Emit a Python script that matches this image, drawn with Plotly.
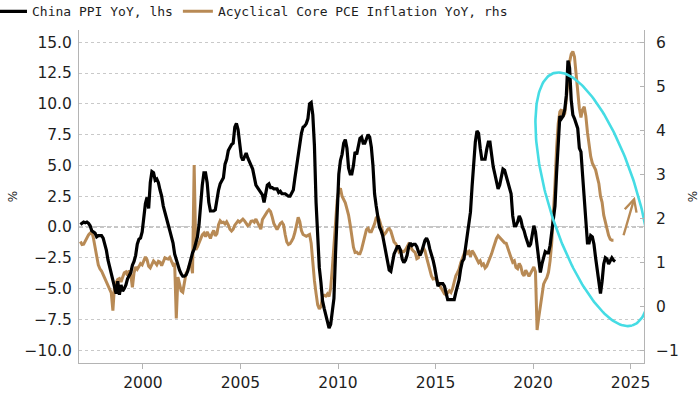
import numpy as np
import plotly.graph_objects as go

# ---------------- data (monthly, first observation = Oct 1996) ----------------
start_year = 1996
start_month = 10

china_ppi_yoy = [
    0.2, 0.3, 0.4,
    0.35, 0.4, 0.3, 0.1, -0.3, -0.4, -0.5, -0.8, -0.7, -0.7, -0.7, -0.9,
    -1.3, -1.9, -2.7, -3.2, -3.8, -4.3, -4.8, -5.4, -4.4, -5.5, -4.7, -5.2,
    -5.0, -4.7, -4.2, -4.0, -3.7, -3.1, -2.8, -2.3, -1.4, -1.0, -0.9, -0.4,
    0.6, 1.9, 2.4, 1.5, 3.6, 4.5, 4.4, 3.8, 3.9, 3.6, 3.0, 2.5,
    1.7, 1.1, 0.6, 0.2, -0.3, -0.7, -1.3, -2.2, -2.7, -3.2, -3.5, -3.8,
    -4.0, -4.0, -3.9, -3.6, -3.0, -2.5, -2.1, -1.8, -1.4, -0.8, 0.2, 2.0,
    3.4, 4.4, 4.4, 3.6, 2.0, 1.3, 1.3, 1.3, 1.4, 2.4, 3.0, 3.5,
    3.8, 4.0, 5.1, 5.5, 6.2, 6.5, 6.7, 6.8, 8.1, 8.4, 7.9, 6.8,
    5.7, 5.4, 5.8, 6.0, 5.6, 5.2, 5.0, 4.7, 4.0, 3.4, 3.2, 3.0,
    2.8, 2.6, 2.0, 2.7, 3.4, 3.5, 3.2, 3.2, 3.1, 3.1, 3.1, 2.8,
    2.9, 2.7, 2.7, 2.7, 2.6, 2.5, 2.5, 2.8, 3.0, 4.0, 5.0, 5.8,
    6.6, 7.6, 8.1, 8.2, 8.4, 8.8, 10.0, 10.1, 9.1, 6.6, 2.0, -1.1,
    -3.3, -4.5, -6.0, -6.6, -7.2, -7.8, -8.2, -7.9, -7.0, -5.8, -2.1, 1.7,
    4.3, 5.4, 5.9, 6.8, 7.1, 6.4, 4.8, 4.3, 4.3, 5.0, 6.1, 5.9,
    6.6, 7.2, 7.3, 6.8, 6.8, 7.1, 7.5, 7.3, 6.5, 5.0, 2.7, 1.7,
    0.7, 0.0, -0.3, -0.7, -1.4, -2.1, -2.9, -3.5, -3.6, -2.8, -2.2, -1.9,
    -1.6, -1.6, -1.9, -2.6, -2.9, -2.7, -2.3, -1.6, -1.3, -1.5, -1.4, -1.4,
    -1.6, -2.0, -2.3, -2.0, -1.4, -1.1, -0.9, -1.2, -1.8, -2.2, -2.7, -3.3,
    -4.3, -4.8, -4.6, -4.6, -4.6, -4.8, -5.4, -5.9, -5.9, -5.9, -5.9, -5.9,
    -5.3, -4.9, -4.3, -3.4, -2.8, -2.6, -1.7, -0.8, 0.1, 1.2, 3.3, 5.5,
    6.9, 7.8, 7.6, 6.4, 5.5, 5.5, 5.5, 6.3, 6.9, 6.9, 5.8, 4.9,
    4.3, 3.7, 3.1, 3.4, 4.1, 4.7, 4.6, 4.1, 3.6, 3.3, 2.7, 0.9,
    0.1, 0.1, 0.4, 0.9, 0.6, 0.0, -0.3, -0.8, -1.2, -1.6, -1.4, -0.5,
    0.1, -0.4, -1.5, -3.1, -3.7, -3.0, -2.4, -2.0, -2.1, -2.1, -1.5, -0.4,
    0.3, 1.7, 4.4, 6.8, 9.0, 8.8, 9.0, 9.5, 10.7, 13.5, 12.9, 10.3,
    9.1, 8.8, 8.3, 8.0, 6.4, 6.1, 4.2, 2.3, 0.9, -1.3, -1.3, -0.7,
    -0.8, -1.4, -2.5, -3.6, -4.6, -5.4, -4.4, -3.0, -2.5, -2.6, -3.0, -2.7,
    -2.5, -2.7, -2.8,
]

acyclical_core_pce_yoy = [
    1.47, 1.40, 1.41,
    1.48, 1.57, 1.62, 1.66, 1.69, 1.55, 1.34, 1.12, 0.94, 0.85, 0.80, 0.72,
    0.63, 0.56, 0.48, 0.37, 0.30, -0.10, 0.47, 0.54, 0.61, 0.63, 0.55, 0.66,
    0.76, 0.78, 0.70, 0.81, 0.71, 0.43, 0.76, 0.89, 0.84, 0.90, 0.97, 0.94,
    1.05, 1.12, 1.06, 0.91, 0.87, 0.96, 1.03, 0.99, 0.94, 1.02, 1.00, 0.92,
    1.00, 1.10, 1.08, 1.07, 1.11, 1.00, 0.94, 0.97, -0.28, 0.66, 0.46, 0.35,
    0.32, 0.52, 0.75, 0.81, 0.92, 0.97, 0.75, 3.21, 1.28, 1.35, 1.44, 1.54,
    1.62, 1.66, 1.58, 1.69, 1.62, 1.54, 1.65, 1.72, 1.60, 1.65, 1.85, 1.94,
    1.90, 1.91, 1.87, 1.92, 1.85, 1.75, 1.71, 1.75, 1.84, 1.90, 1.94, 1.91,
    1.94, 1.98, 1.94, 1.89, 1.83, 1.85, 1.93, 1.94, 1.91, 1.98, 1.90, 1.79,
    1.75, 1.97, 2.04, 2.11, 2.15, 2.19, 2.15, 2.03, 1.88, 1.81, 1.74, 1.81,
    1.88, 1.91, 1.85, 1.63, 1.46, 1.40, 1.42, 1.48, 1.55, 1.68, 1.88, 2.02,
    1.92, 1.72, 1.63, 1.60, 1.59, 1.61, 1.63, 1.43, 0.97, 0.58, 0.29, 0.03,
    -0.06, -0.01, 0.22, 0.25, 0.23, 0.28, 0.22, 0.41, 0.86, 1.35, 1.90, 2.41,
    2.63, 2.68, 2.50, 2.42, 2.35, 2.21, 2.07, 1.85, 1.57, 1.34, 1.22, 1.23,
    1.19, 1.19, 1.29, 1.44, 1.60, 1.74, 1.77, 1.69, 1.69, 1.77, 1.87, 2.01,
    2.04, 1.96, 1.84, 1.69, 1.63, 1.67, 1.74, 1.76, 1.71, 1.56, 1.46, 1.42,
    1.35, 1.24, 1.28, 1.24, 1.24, 1.28, 1.35, 1.42, 1.40, 1.29, 1.25, 1.22,
    1.08, 1.10, 1.24, 1.25, 1.33, 1.26, 1.11, 0.96, 0.84, 0.69, 0.62, 0.63,
    0.61, 0.54, 0.49, 0.41, 0.34, 0.28, 0.26, 0.32, 0.35, 0.31, 0.40, 0.55,
    0.69, 0.76, 0.84, 0.98, 1.07, 1.20, 1.28, 1.20, 1.24, 1.13, 1.26, 1.21,
    1.13, 1.06, 0.99, 1.03, 0.93, 0.96, 0.87, 0.91, 1.00, 1.07, 1.19, 1.31,
    1.44, 1.54, 1.60, 1.56, 1.53, 1.49, 1.44, 1.43, 1.30, 1.19, 1.10, 1.00,
    1.03, 0.88, 0.85, 0.97, 0.90, 0.74, 0.69, 0.82, 0.74, 0.68, 0.75, 0.82,
    0.89, 0.78, -0.54, -0.26, 0.00, 0.32, 0.50, 0.58, 0.65, 0.77, 1.03, 1.44,
    2.00, 2.76, 3.59, 4.15, 4.42, 4.47, 4.31, 4.38, 4.72, 5.17, 5.55, 5.73,
    5.79, 5.67, 5.28, 4.83, 4.50, 4.29, 4.47, 4.53, 4.32, 3.95, 3.67, 3.40,
    3.25, 3.17, 3.10, 2.94, 2.79, 2.50, 2.36, 2.07, 1.91, 1.75, 1.61, 1.52,
    1.50, 1.50,
]

x_tick_vals = [2000, 2005, 2010, 2015, 2020, 2025]
x_tick_text = ["2000", "2005", "2010", "2015", "2020", "2025"]
left_tick_vals = [-10, -7.5, -5, -2.5, 0, 2.5, 5, 7.5, 10, 12.5, 15]
right_tick_vals = [-1, 0, 1, 2, 3, 4, 5, 6]

series_names = ["China PPI YoY, lhs", "Acyclical Core PCE Inflation YoY, rhs"]

# ---------------- styling / layout constants ----------------
BLACK = "#000000"
GOLD = "#B88A55"
CYAN = "#45DCE4"
AXIS_GREY = "#B4B4B4"
GRID_GREY = "#C9C9C9"
TICK_FONT = dict(family="DejaVu Sans", size=15.5, color="#1E1E1E")

# monthly time axis (mid-month, decimal years)
t0 = start_year + (start_month - 1) / 12.0
t_ppi = [t0 + (i + 0.5) / 12.0 for i in range(len(china_ppi_yoy))]
t_pce = [t0 + (i + 0.5) / 12.0 for i in range(len(acyclical_core_pce_yoy))]

fig = go.Figure()

# gold series on the right-hand axis (primary y, drawn underneath)
fig.add_trace(go.Scatter(
    x=t_pce, y=acyclical_core_pce_yoy, mode="lines", name=series_names[1],
    line=dict(color=GOLD, width=3), yaxis="y", legendrank=2,
))
# black series on the left-hand axis (overlay, drawn on top)
fig.add_trace(go.Scatter(
    x=t_ppi, y=china_ppi_yoy, mode="lines", name=series_names[0],
    line=dict(color=BLACK, width=3.2), yaxis="y2", legendrank=1,
))

# highlighting ellipse (annotation), left-axis units
ell_cx, ell_cy = 2023.08, 2.25
ell_u = (2.015, -10.24)
ell_v = (-2.164, -1.067)
th = np.linspace(0, 2 * np.pi, 241)
ex = ell_cx + ell_u[0] * np.cos(th) + ell_v[0] * np.sin(th)
ey = ell_cy + ell_u[1] * np.cos(th) + ell_v[1] * np.sin(th)
fig.add_trace(go.Scatter(
    x=ex, y=ey, mode="lines", yaxis="y2", showlegend=False, hoverinfo="skip",
    line=dict(color=CYAN, width=2.6),
))

# arrow annotation
fig.add_annotation(
    x=2025.22, y=2.46, xref="x", yref="y2",
    ax=2024.62, ay=-0.79, axref="x", ayref="y2",
    text="", showarrow=True, arrowhead=5, arrowsize=1.0, arrowwidth=2.4,
    arrowcolor=GOLD, standoff=0,
)

# dashed zero line on the left axis
fig.add_shape(
    type="line", xref="paper", x0=0, x1=1, yref="y2", y0=0, y1=0,
    line=dict(color="#8C8C8C", width=1.2, dash="4px,3px"), layer="below",
)

fig.update_layout(
    width=700, height=394,
    margin=dict(l=79, r=56, t=30, b=31, autoexpand=False),
    paper_bgcolor="white", plot_bgcolor="white",
    showlegend=True,
    legend=dict(
        orientation="h", x=-0.154, xanchor="left", y=1.101, yanchor="top",
        font=dict(family="DejaVu Sans Mono", size=13, color="#1E1E1E"),
        bgcolor="rgba(0,0,0,0)", itemwidth=30, tracegroupgap=0,
    ),
    xaxis=dict(
        range=[1996.72, 2025.69], tickmode="array", tickvals=x_tick_vals,
        ticktext=x_tick_text, ticks="outside", ticklen=5, tickcolor=AXIS_GREY,
        showline=True, linecolor=AXIS_GREY, linewidth=1, showgrid=False,
        zeroline=False, tickfont=TICK_FONT,
    ),
    yaxis=dict(
        side="right", range=[-1.291, 6.277], tickmode="array",
        tickvals=right_tick_vals, ticks="inside", ticklen=4, tickcolor=AXIS_GREY,
        showline=True, linecolor=AXIS_GREY, linewidth=1, showgrid=False,
        zeroline=False, tickfont=TICK_FONT, ticklabelstandoff=8,
        title=dict(text="%", font=dict(family="DejaVu Sans", size=12, color="#1E1E1E"), standoff=10),
    ),
    yaxis2=dict(
        side="left", overlaying="y", range=[-11.04, 15.99], tickmode="array",
        tickvals=left_tick_vals, tickformat=".1f", ticks="",
        showline=True, linecolor=AXIS_GREY, linewidth=1,
        showgrid=True, gridcolor=GRID_GREY, griddash="dot", gridwidth=1,
        zeroline=False, tickfont=TICK_FONT, ticklabelstandoff=3,
        title=dict(text="%", font=dict(family="DejaVu Sans", size=12, color="#1E1E1E"), standoff=4),
    ),
)

fig.write_html(
    "out.html",
    config={"displayModeBar": False},
    post_script="document.body.style.margin='0px';",
)
